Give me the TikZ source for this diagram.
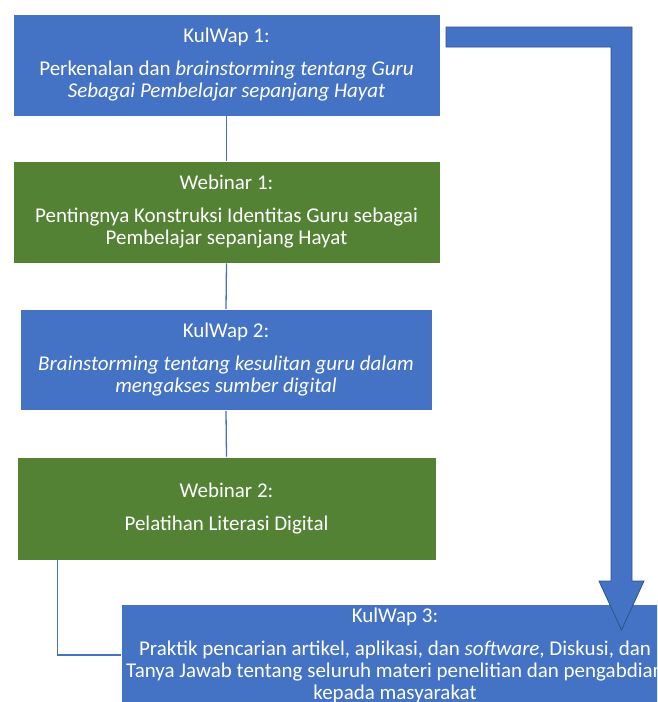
\documentclass[tikz,border=0pt]{standalone}
\usepackage{fontspec}
\setmainfont{Carlito}
\definecolor{kblue}{HTML}{4472C4}
\definecolor{kgreen}{HTML}{548235}
\definecolor{kedge}{HTML}{2F528F}
\begin{document}
\begin{tikzpicture}[x=1pt,y=-1pt,
  box/.style={rectangle, draw=white, line width=0.6pt, text=white, align=center, inner sep=0pt, font=\fontsize{21}{22}\selectfont},
  bluebox/.style={box, fill=kblue},
  greenbox/.style={box, fill=kgreen},
  conn/.style={draw=kblue, line width=1.3pt},
  bentarrow/.style={fill=kblue, draw=kedge, line width=0.8pt, line join=miter}]
\useasboundingbox (0,0) rectangle (657,702);
\clip (0,0) rectangle (657,702);
\node[bluebox, minimum width=427pt, minimum height=102pt] (b1) at (226.5,65)
  {KulWap 1:\\[11pt] Perkenalan dan \textit{brainstorming tentang Guru}\\ \textit{Sebagai Pembelajar sepanjang Hayat}};
\node[greenbox, minimum width=427pt, minimum height=102pt] (b2) at (226.5,212)
  {Webinar 1:\\[11pt] Pentingnya Konstruksi Identitas Guru sebagai\\ Pembelajar sepanjang Hayat};
\node[bluebox, minimum width=412pt, minimum height=101pt] (b3) at (226,360)
  {KulWap 2:\\[11pt] \textit{Brainstorming tentang kesulitan guru dalam}\\ \textit{mengakses sumber digital}};
\node[greenbox, minimum width=419pt, minimum height=103pt] (b4) at (226.5,508.5)
  {Webinar 2:\\[11pt] Pelatihan Literasi Digital};
\node[bluebox, minimum width=548pt, minimum height=102pt] (b5) at (395,655)
  {KulWap 3:\\[11pt] Praktik pencarian artikel, aplikasi, dan \textit{software}, Diskusi, dan\\ Tanya Jawab tentang seluruh materi penelitian dan pengabdian\\ kepada masyarakat};
\draw[conn] (b1.south) -- (b2.north);
\draw[conn] (b2.south) -- (b3.north);
\draw[conn] (b3.south) -- (b4.north);
\coordinate (c4) at ([xshift=41pt]b4.south west);
\draw[conn] (c4) |- (b5.west);
\draw[bentarrow] (446,27) -- (632,27) -- (632,581) -- (644,581) -- (621.5,630) -- (599,581) -- (611,581) -- (611,47) -- (446,47) -- cycle;
\end{tikzpicture}
\end{document}
